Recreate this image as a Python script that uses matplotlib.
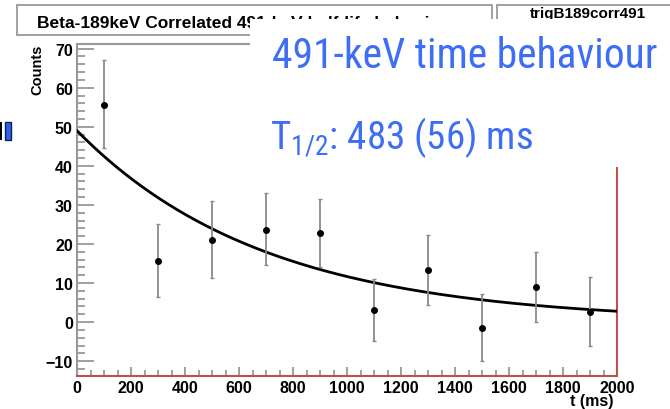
import matplotlib
matplotlib.use("Agg")
import os
import numpy as np
import matplotlib.pyplot as plt
from matplotlib import font_manager
from matplotlib.patches import Rectangle
from matplotlib.ticker import MultipleLocator

# values
t_ms = [100, 300, 500, 700, 900, 1100, 1300, 1500, 1700, 1900]
counts = [55.6, 15.6, 21.0, 23.7, 22.7, 3.1, 13.3, -1.4, 9.0, 2.7]
y_low = [44.5, 6.4, 11.4, 14.5, 14.0, -4.9, 4.5, -9.9, 0.0, -6.2]
y_high = [67.2, 25.1, 31.0, 33.1, 31.6, 11.1, 22.4, 7.3, 18.0, 11.5]

# fitted decay, from the numbers on the slide
fit_a0 = 49.0
half_life = 483.0

title_text = "Beta-189keV Correlated 491-keV half-life behaviour"
hist_name = "trigB189corr491"
slide_line1 = "491-keV time behaviour"
slide_line2 = r"T$_\mathregular{1/2}$: 483 (56) ms"

W, H = 670, 410
BLUE = "#3d6ef5"


def find(family, stretch="normal"):
    try:
        path = font_manager.findfont(
            font_manager.FontProperties(family=family, stretch=stretch),
            fallback_to_default=False)
    except ValueError:
        return None
    if stretch != "normal":
        base = os.path.basename(path).lower()
        if "condensed" not in base and "narrow" not in base:
            return None
    return path


def pick_narrow():
    tries = [("Liberation Sans Narrow", "normal"), ("Arial Narrow", "normal"),
             ("Roboto Condensed", "normal"), ("Noto Sans Condensed", "normal"),
             ("Noto Sans", "condensed"), ("Open Sans", "condensed"),
             ("DejaVu Sans", "condensed"), ("Roboto", "normal")]
    for fam, st in tries:
        if find(fam, st):
            return fam, st
    return "DejaVu Sans", "normal"


bold_font = "Liberation Sans" if find("Liberation Sans") else "DejaVu Sans"
narrow_font, narrow_stretch = pick_narrow()


def fx(x):
    return x / W


def fy(y):
    return 1 - y / H


fig = plt.figure(figsize=(6.7, 4.1), dpi=100)
ax = fig.add_axes([fx(77), fy(377), (617 - 77) / W, (377 - 45) / H])

tt = np.linspace(0, 2000, 400)
ax.plot(tt, fit_a0 * 2 ** (-tt / half_life), color="black", lw=2, zorder=3)

c = np.array(counts)
yerr = [c - np.array(y_low), np.array(y_high) - c]
ax.errorbar(t_ms, counts, yerr=yerr, fmt="o", color="black", ms=4,
            ecolor="#8a8a8a", elinewidth=1.3, capsize=1.5, capthick=1, zorder=4)

ax.set_xlim(0, 2000)
ax.set_ylim(-13.8, 71.2)
ax.xaxis.set_major_locator(MultipleLocator(200))
ax.xaxis.set_minor_locator(MultipleLocator(50))
ax.yaxis.set_major_locator(MultipleLocator(10))
ax.yaxis.set_minor_locator(MultipleLocator(2))

ax.tick_params(axis="both", which="both", direction="in", color="#999999",
               width=1.3, labelsize=11.5)
ax.tick_params(axis="y", which="major", length=12, pad=3)
ax.tick_params(axis="y", which="minor", length=6)
ax.tick_params(axis="x", which="major", length=6.5, pad=3)
ax.tick_params(axis="x", which="minor", length=4)
ax.tick_params(top=False, right=False)
for lab in ax.get_xticklabels() + ax.get_yticklabels():
    lab.set_fontweight("bold")
    lab.set_family(bold_font)

ax.spines["left"].set_color("#999999")
ax.spines["top"].set_color("#999999")
ax.spines["bottom"].set_color("#c0504d")
ax.spines["right"].set_color("#c0504d")
for s in ax.spines.values():
    s.set_linewidth(1.5)

fig.text(fx(37), fy(45), "Counts", rotation=90, ha="center", va="top",
         fontsize=10.5, fontweight="bold", family=bold_font)
fig.text(fx(613), fy(409), "t (ms)", ha="right", va="bottom",
         fontsize=11.5, fontweight="bold", family=bold_font)

# ROOT title boxes
fig.add_artist(Rectangle((fx(17), fy(36)), (492 - 17) / W, 30 / H,
                         transform=fig.transFigure, facecolor="white",
                         edgecolor="#999999", lw=1.3, zorder=1))
fig.text(fx(37), fy(28), title_text, ha="left", va="baseline", fontsize=12.5,
         fontweight="bold", family=bold_font, zorder=2)
fig.add_artist(Rectangle((fx(497), fy(40)), 200 / W, 34 / H,
                         transform=fig.transFigure, facecolor="white",
                         edgecolor="#999999", lw=1.3, zorder=1))
fig.text(fx(588), fy(18), hist_name, ha="center", va="baseline", fontsize=11,
         fontweight="bold", family=bold_font, zorder=2)

# slide overlay
fig.add_artist(Rectangle((fx(250), fy(168)), (W - 250) / W, (168 - 20) / H,
                         transform=fig.transFigure, facecolor="white",
                         edgecolor="none", zorder=3))

# stray marks at the left edge of the slide
fig.add_artist(Rectangle((fx(0), fy(141)), 2 / W, 18 / H,
                         transform=fig.transFigure, facecolor="black",
                         edgecolor="none", zorder=3))
fig.add_artist(Rectangle((fx(5), fy(141)), 6 / W, 18 / H,
                         transform=fig.transFigure, facecolor="#2f62e0",
                         edgecolor="#10205a", lw=1, zorder=3))

l1 = fig.text(fx(272), fy(68), slide_line1, ha="left", va="baseline",
              fontsize=28, color=BLUE, family=narrow_font,
              fontstretch=narrow_stretch, zorder=4)
l2 = fig.text(fx(270), fy(149), slide_line2, ha="left", va="baseline",
              fontsize=30, color=BLUE, family=narrow_font,
              fontstretch=narrow_stretch, zorder=4)

# squeeze the slide text to the width seen on the slide
fig.canvas.draw()
r = fig.canvas.get_renderer()
for txt, width in [(l1, 385), (l2, 263)]:
    w = txt.get_window_extent(r).width
    txt.set_fontsize(txt.get_fontsize() * width / w)

fig.savefig("out.png", dpi=100)
